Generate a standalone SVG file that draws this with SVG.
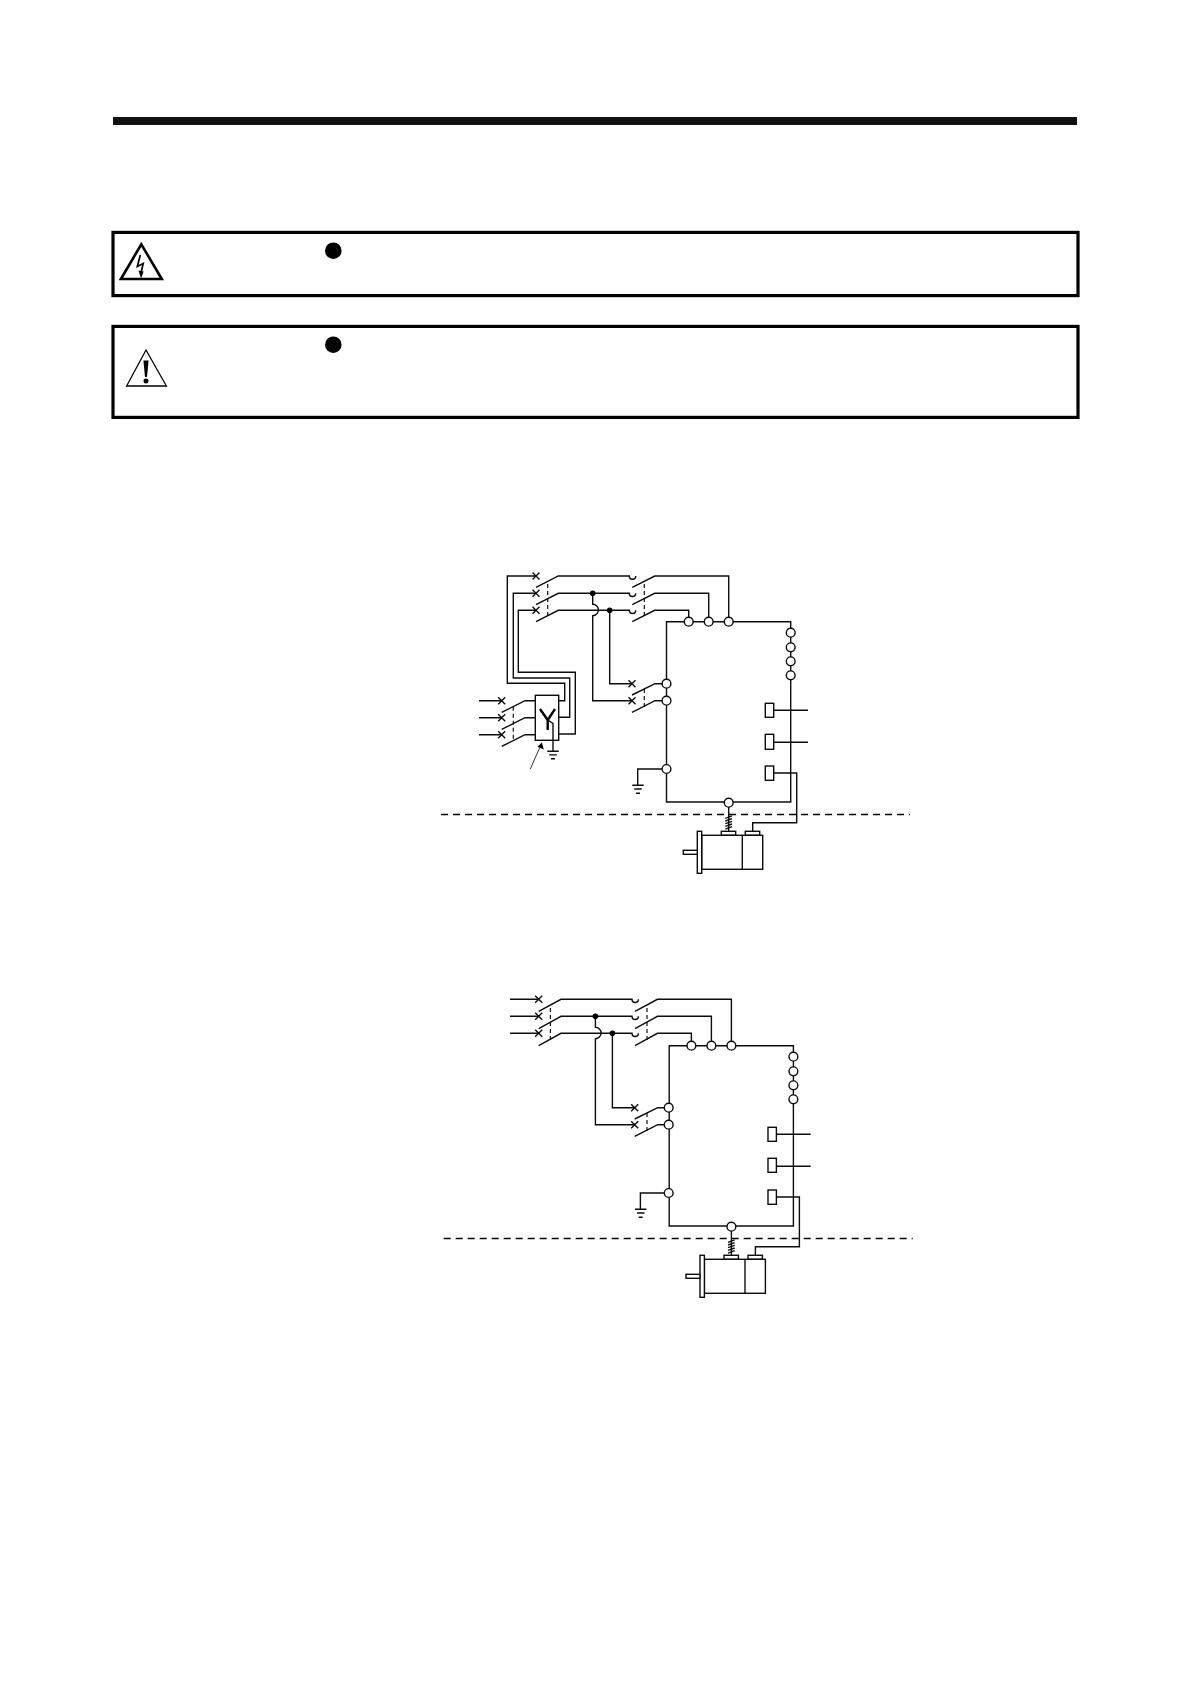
<svg xmlns="http://www.w3.org/2000/svg" width="1190" height="1684" viewBox="0 0 1190 1684">
<style>
.w{fill:none;stroke:#0c0c0c;stroke-width:1.4}
.d{fill:none;stroke:#111;stroke-width:1.2;stroke-dasharray:4 3}
.t{fill:#fff;stroke:#0c0c0c;stroke-width:1.4}
.j{fill:#000}
.frame{fill:#fff;stroke:#000;stroke-width:3.2}
.dash{fill:none;stroke:#000;stroke-width:1.3;stroke-dasharray:7 5}
</style>
<rect width="1190" height="1684" fill="#fff"/>
<rect id="top-bar" x="113" y="117" width="964" height="8" fill="#111"/>
<g id="warning-box"><rect class="frame" x="113" y="232.4" width="965" height="63.2"/>
<circle class="j" cx="333.3" cy="250.7" r="8.3"/>
<path d="M141.3,244.3 L161.8,279 H120.9 Z" fill="#fff" stroke="#000" stroke-width="2.6" stroke-linejoin="miter" stroke-miterlimit="10"/>
<path d="M140.3,255 L137.3,266.5 L143.2,263.5 L141,273" fill="none" stroke="#000" stroke-width="1.7"/>
<path d="M138.5,270.5 L143.6,271.6 L141,278.5 Z" fill="#000"/></g>
<g id="caution-box"><rect class="frame" x="113" y="326.4" width="965" height="91"/>
<circle class="j" cx="333.3" cy="344.7" r="8.3"/>
<path d="M146,350 L166.4,386 H126.6 Z" fill="#fff" stroke="#000" stroke-width="1.3" stroke-miterlimit="10"/>
<path d="M143.4,360.6 H148.6 L147,377 H145 Z" fill="#000"/>
<circle class="j" cx="146" cy="381" r="2.5"/></g>

<g id="filter-input" >
<path class="w" d="M479,700.7 H501.7 M479,717.7 H501.7 M479,734.7 H501.7"/>
<path class="w" d="M501.7,712.3 L525,700.7 H535.3 M501.7,729.3 L525,717.7 H535.3 M501.7,746.3 L525,734.7 H535.3"/>
<path class="d" d="M513.3,706.7 V740"/>
<path class="w" d="M498.2,697.2 l7,7 m0,-7 l-7,7 M498.2,714.2 l7,7 m0,-7 l-7,7 M498.2,731.2 l7,7 m0,-7 l-7,7"/>
</g>
<g id="filter">
<rect class="t" x="535.3" y="695.3" width="23.4" height="45"/>
<path fill="none" stroke="#000" stroke-width="2.4" d="M540,709 L547.7,720 L555,709 M547.7,720 V730"/>
<path class="w" d="M547.7,720 L553,723.3 V751.3"/>
<path class="w" d="M547.3,751.3 H558.7 M549.3,754.9 H556.7 M551,758.7 H555"/>
<path fill="none" stroke="#333" stroke-width="1" d="M530.3,769 L540,747"/>
<path d="M541.9,742.6 L543.8,749.6 L537.5,746.8 Z" fill="#000"/>
</g>
<g id="filter-wires">
<path class="w" d="M536,576 H507.3 V683.3 H564.7 V700.7 H558.7"/>
<path class="w" d="M536,593.3 H513.3 V678 H569.7 V717.3 H558.7"/>
<path class="w" d="M536,610.3 H518.3 V672.3 H575.3 V734 H558.7"/>
</g>

<g id="circuit-1">
<g id="breaker-1">
<path class="w" d="M536,587.3 L558.3,576 H629.3 a3.2,3.2 0 0 0 6.4,0 M536,604.6 L558.3,593.3 H629.3 a3.2,3.2 0 0 0 6.4,0 M536,621.7 L558.3,610.3 H629.3 a3.2,3.2 0 0 0 6.4,0"/>
<path class="d" d="M547.7,584 V616"/>
<path class="w" d="M532.5,572.5 l7,7 m0,-7 l-7,7 M532.5,589.8 l7,7 m0,-7 l-7,7 M532.5,606.8 l7,7 m0,-7 l-7,7"/>
</g>
<g id="contactor-1">
<path class="w" d="M632.3,587.3 L654.7,576 H728.7 V621.7 M632.3,604.6 L654.7,593.3 H708.7 V621.7 M632.3,621.7 L654.7,610.3 H688.7 V621.7"/>
<path class="d" d="M644.3,584 V616"/>
</g>
<g id="junctions-1">
<path class="w" d="M592.7,593.3 V604.3 A5.7,5.7 0 0 1 592.7,615.7 V700.7 H632"/>
<path class="w" d="M609.7,610.3 V683.7 H632"/>
<circle class="j" cx="592.7" cy="593.3" r="2.8"/><circle class="j" cx="609.7" cy="610.3" r="2.8"/>
</g>
<g id="control-switch-1">
<path class="w" d="M632,695 L655,683.7 H662.5 M632,712.3 L655,700.7 H662.5"/>
<path class="d" d="M644.3,689 V707"/>
<path class="w" d="M628.5,680.2 l7,7 m0,-7 l-7,7 M628.5,697.2 l7,7 m0,-7 l-7,7"/>
</g>
<g id="amplifier-1">
<path class="w" d="M688.7,621.7 H666.5 V802 H790.7 V621.7 H688.7"/>
<path class="w" d="M773.7,710.3 H808 M773.7,742.3 H808"/>
<path class="w" d="M773.7,773 H796.7 V822.7 H752.7 V831.3"/>
<rect class="t" x="765.3" y="703.3" width="8.4" height="14"/>
<rect class="t" x="765.3" y="734.3" width="8.4" height="15"/>
<rect class="t" x="765.3" y="766" width="8.4" height="14.3"/>
<circle class="t" cx="688.7" cy="621.7" r="4.4"/><circle class="t" cx="708.7" cy="621.7" r="4.4"/><circle class="t" cx="728.7" cy="621.7" r="4.4"/>
<circle class="t" cx="790.7" cy="632.7" r="4.4"/><circle class="t" cx="790.7" cy="647.3" r="4.4"/><circle class="t" cx="790.7" cy="661.3" r="4.4"/><circle class="t" cx="790.7" cy="675.3" r="4.4"/>
<circle class="t" cx="666.5" cy="683.7" r="4.4"/><circle class="t" cx="666.5" cy="700.7" r="4.4"/>
<path class="w" d="M662.2,769 H637.7 V785.3 M632.3,785.3 H643.7 M634.3,789 H641.7 M636,793.3 H640"/>
<circle class="t" cx="666.5" cy="769" r="4.4"/>
</g>
<path class="dash" d="M441,814.5 H910"/>
<g id="motor-1">
<path class="w" d="M728.7,807 V831.3"/>
<path class="w" d="M725.3,818.3 l6.7,-2.4 M725.3,821 l6.7,-2.4 M725.3,823.7 l6.7,-2.4 M725.3,826.4 l6.7,-2.4 M725.3,829.1 l6.7,-2.4"/>
<rect class="t" x="721.3" y="831.3" width="14.4" height="4"/><rect class="t" x="745.3" y="831.3" width="14.4" height="4"/>
<rect class="t" x="701.7" y="835.3" width="61" height="34"/>
<path class="w" d="M742.3,835.3 V869.3"/>
<rect class="t" x="697.3" y="831.3" width="4.4" height="42"/>
<rect class="t" x="683.3" y="850.3" width="14" height="4"/>
</g>
<circle class="t" cx="728.7" cy="802.7" r="4.4"/>
</g>

<g id="circuit-2" transform="translate(2.7,424)">
<g id="input-2"><path class="w" d="M507.3,575.3 H536 M507.3,592.3 H536 M507.3,609.3 H536"/></g>
<g id="breaker-2">
<path class="w" d="M536,587.3 L558.3,575.3 H629.3 a3.2,3.2 0 0 0 6.4,0 M536,604.6 L558.3,592.3 H629.3 a3.2,3.2 0 0 0 6.4,0 M536,621.7 L558.3,609.3 H629.3 a3.2,3.2 0 0 0 6.4,0"/>
<path class="d" d="M547.7,584 V616"/>
<path class="w" d="M532.5,571.8 l7,7 m0,-7 l-7,7 M532.5,588.8 l7,7 m0,-7 l-7,7 M532.5,605.8 l7,7 m0,-7 l-7,7"/>
</g>
<g id="contactor-2">
<path class="w" d="M632.3,587.3 L654.7,575.3 H728.7 V621.7 M632.3,604.6 L654.7,592.3 H708.7 V621.7 M632.3,621.7 L654.7,609.3 H688.7 V621.7"/>
<path class="d" d="M644.3,584 V616"/>
</g>
<g id="junctions-2">
<path class="w" d="M592.7,592.3 V603.3 A5.7,5.7 0 0 1 592.7,614.7 V700.7 H632"/>
<path class="w" d="M609.7,609.3 V683.7 H632"/>
<circle class="j" cx="592.7" cy="592.3" r="2.8"/><circle class="j" cx="609.7" cy="609.3" r="2.8"/>
</g>
<g id="control-switch-2">
<path class="w" d="M632,695 L655,683.7 H662.5 M632,712.3 L655,700.7 H662.5"/>
<path class="d" d="M644.3,689 V707"/>
<path class="w" d="M628.5,680.2 l7,7 m0,-7 l-7,7 M628.5,697.2 l7,7 m0,-7 l-7,7"/>
</g>
<g id="amplifier-2">
<path class="w" d="M688.7,621.7 H666.5 V802 H790.7 V621.7 H688.7"/>
<path class="w" d="M773.7,710.3 H808 M773.7,742.3 H808"/>
<path class="w" d="M773.7,773 H796.7 V822.7 H752.7 V831.3"/>
<rect class="t" x="765.3" y="703.3" width="8.4" height="14"/>
<rect class="t" x="765.3" y="734.3" width="8.4" height="14"/>
<rect class="t" x="765.3" y="766" width="8.4" height="14.3"/>
<circle class="t" cx="688.7" cy="621.7" r="4.4"/><circle class="t" cx="708.7" cy="621.7" r="4.4"/><circle class="t" cx="728.7" cy="621.7" r="4.4"/>
<circle class="t" cx="790.7" cy="632.7" r="4.4"/><circle class="t" cx="790.7" cy="647.3" r="4.4"/><circle class="t" cx="790.7" cy="661.3" r="4.4"/><circle class="t" cx="790.7" cy="675.3" r="4.4"/>
<circle class="t" cx="666" cy="683.7" r="4.4"/><circle class="t" cx="666" cy="700.7" r="4.4"/>
<path class="w" d="M662,769 H637.7 V785.3 M632.3,785.3 H643.7 M634.3,789 H641.7 M636,793.3 H640"/>
<circle class="t" cx="666" cy="769" r="4.4"/>
</g>
<path class="dash" d="M441,814.5 H910"/>
<g id="motor-2">
<path class="w" d="M728.7,807 V831.3"/>
<path class="w" d="M725.3,818.3 l6.7,-2.4 M725.3,821 l6.7,-2.4 M725.3,823.7 l6.7,-2.4 M725.3,826.4 l6.7,-2.4 M725.3,829.1 l6.7,-2.4"/>
<rect class="t" x="721.3" y="831.3" width="14.4" height="4"/><rect class="t" x="745.3" y="831.3" width="14.4" height="4"/>
<rect class="t" x="701.7" y="835.3" width="61" height="34"/>
<path class="w" d="M742.3,835.3 V869.3"/>
<rect class="t" x="697.3" y="831.3" width="4.4" height="42"/>
<rect class="t" x="683.3" y="850.3" width="14" height="4"/>
</g>
<circle class="t" cx="728.7" cy="802.7" r="4.4"/>
</g>
</svg>
